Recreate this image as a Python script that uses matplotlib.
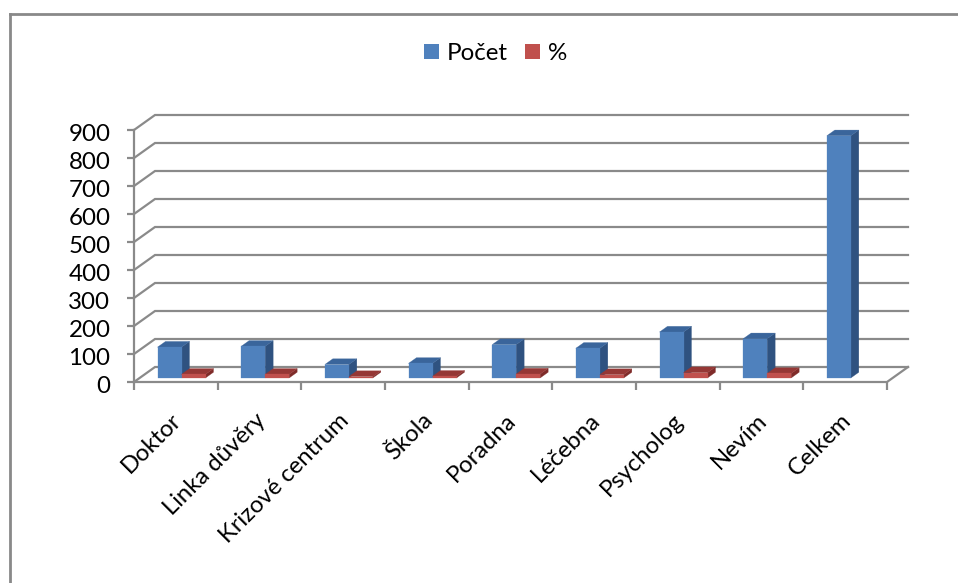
import matplotlib.pyplot as plt
from matplotlib.lines import Line2D
from matplotlib.patches import Polygon, Rectangle
from matplotlib.transforms import ScaledTranslation

W, H = 958, 583

categories = ["Doktor", "Linka důvěry", "Krizové centrum", "Škola", "Poradna",
              "Léčebna", "Psycholog", "Nevím", "Celkem"]
pocet = [110, 113, 48, 52, 119, 106, 164, 140, 865]
procenta = [13, 13, 5, 6, 14, 12, 19, 16, 0]
y_ticks = [0, 100, 200, 300, 400, 500, 600, 700, 800, 900]

GRID = "#8A8A8A"
BLUE = ("#4F81BD", "#2F5280", "#3A659B")
RED = ("#C0504D", "#7F2B29", "#953735")

plt.rcParams["font.family"] = ["Lato", "DejaVu Sans"]

fig = plt.figure(figsize=(W / 100, H / 100), dpi=100)
ax = fig.add_axes([134 / W, 1 - 382 / H, (887 - 134) / W, (382 - 130) / H])
ax.set_xlim(0, len(categories))
ax.set_ylim(0, 900)
ax.patch.set_visible(False)
for s in ("top", "right", "bottom"):
    ax.spines[s].set_visible(False)
ax.spines["left"].set_color(GRID)
ax.spines["left"].set_linewidth(1.6)

# depth of the fake 3d box, in data units
depth_x = 21 / 83.67
depth_y = 15 / 0.28

# walls
for v in y_ticks:
    ax.plot([0, depth_x, len(categories) + depth_x], [v, v + depth_y, v + depth_y],
            color=GRID, lw=1.6, clip_on=False, zorder=1, solid_joinstyle="miter")
n = len(categories)
ax.plot([0, n, n + depth_x], [0, 0, depth_y], color=GRID, lw=1.6, clip_on=False, zorder=1)


def bar3d(x, w, h, colors):
    # bar stands a bit behind the front edge of the floor
    x0 = x + 0.27 * depth_x
    y0 = 0.27 * depth_y
    dx = 0.38 * depth_x
    dy = 0.38 * depth_y
    front, side, top = colors
    y1 = y0 + h
    ax.add_patch(Polygon([(x0 + w, y0), (x0 + w + dx, y0 + dy), (x0 + w + dx, y1 + dy), (x0 + w, y1)],
                         fc=side, ec=side, lw=0.2, zorder=3, clip_on=False))
    ax.add_patch(Polygon([(x0, y1), (x0 + dx, y1 + dy), (x0 + w + dx, y1 + dy), (x0 + w, y1)],
                         fc=top, ec=top, lw=0.2, zorder=3, clip_on=False))
    ax.add_patch(Rectangle((x0, y0), w, h, fc=front, ec=front, lw=0.2, zorder=3, clip_on=False))


bar_w = 24 / 83.67
for i in range(n):
    bar3d(i + 0.5 - bar_w, bar_w, pocet[i], BLUE)
    if procenta[i] > 0:
        bar3d(i + 0.5, bar_w, procenta[i], RED)

ax.set_yticks(y_ticks)
ax.set_xticks(range(n + 1))
ax.set_xticklabels([])
ax.set_xticks([i + 0.5 for i in range(n)], minor=True)
ax.set_xticklabels(categories, minor=True, rotation=45, ha="right", va="top",
                   rotation_mode="anchor", fontsize=17.2)
ax.tick_params(axis="x", which="major", length=6, width=1.6, color=GRID)
ax.tick_params(axis="x", which="minor", length=0, pad=20)
ax.tick_params(axis="y", length=5, width=1.6, color=GRID, labelsize=17.4, pad=12)

# digits sit a little under their ticks in the original
nudge = ScaledTranslation(0, -2 / 72, fig.dpi_scale_trans)
for lab in ax.get_yticklabels():
    lab.set_transform(lab.get_transform() + nudge)
nudge_x = ScaledTranslation(-5 / 100, 0, fig.dpi_scale_trans)
for lab in ax.get_xticklabels(minor=True):
    lab.set_transform(lab.get_transform() + nudge_x)

handles = [Rectangle((0, 0), 1, 1, fc=BLUE[0]), Rectangle((0, 0), 1, 1, fc=RED[0])]
fig.legend(handles, ["Počet", "%"], ncol=2, frameon=False, fontsize=17.4,
           loc="center", bbox_to_anchor=(495.5 / W, 1 - 53.5 / H),
           handlelength=0.6, handleheight=0.6, handletextpad=0.32, columnspacing=0.75)

# chart frame, only top and left show in the crop
fig.add_artist(Line2D([9.5 / W, 1], [1 - 14 / H, 1 - 14 / H], color="#898989", lw=2))
fig.add_artist(Line2D([9.5 / W, 9.5 / W], [0, 1 - 14 / H], color="#898989", lw=2))

fig.savefig("out.png", dpi=100)
